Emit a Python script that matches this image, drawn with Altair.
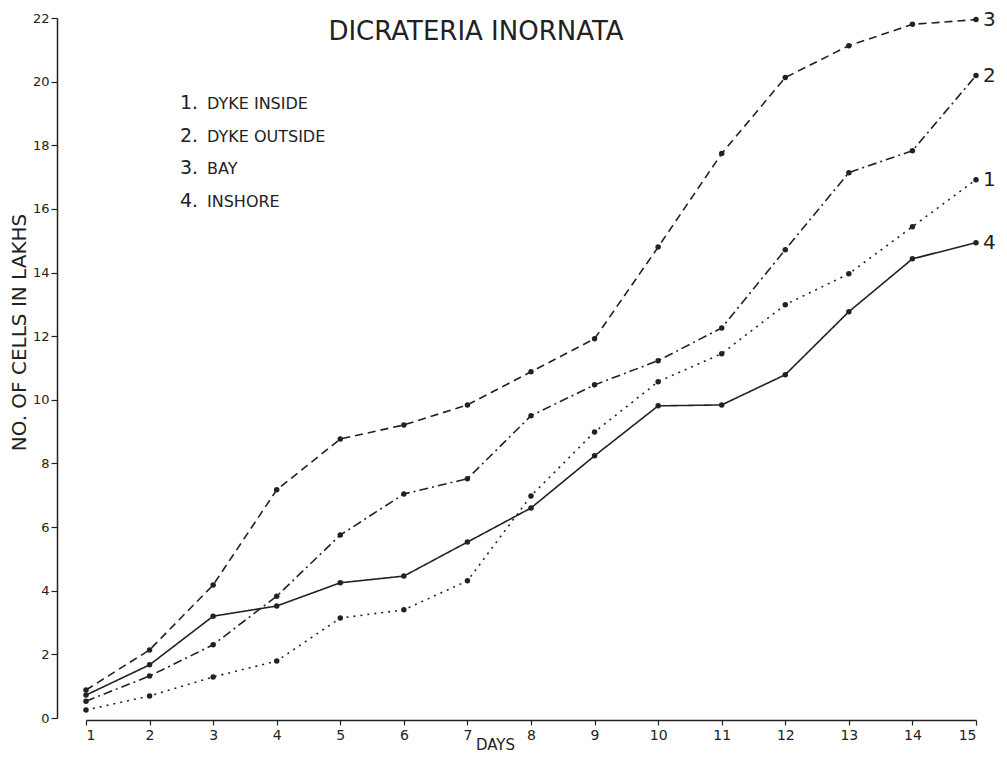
import altair as alt
import pandas as pd

# ---------------- data ----------------
days = list(range(1, 16))
series_ids = ["1", "2", "3", "4"]
series_names = ["DYKE INSIDE", "DYKE OUTSIDE", "BAY", "INSHORE"]
legend_nums = ["1.", "2.", "3.", "4."]

dyke_inside = [0.25, 0.69, 1.29, 1.79, 3.14, 3.40, 4.31, 6.98, 8.99, 10.57, 11.45, 12.99, 13.96, 15.44, 16.92]
dyke_outside = [0.53, 1.32, 2.30, 3.83, 5.75, 7.04, 7.52, 9.50, 10.47, 11.23, 12.26, 14.72, 17.14, 17.83, 20.19]
bay = [0.88, 2.14, 4.18, 7.17, 8.77, 9.21, 9.84, 10.88, 11.92, 14.80, 17.74, 20.13, 21.13, 21.80, 21.95]
inshore = [0.72, 1.67, 3.20, 3.52, 4.25, 4.46, 5.53, 6.60, 8.24, 9.81, 9.84, 10.79, 12.77, 14.43, 14.94]

y_ticks = list(range(0, 23))
chart_title = "DICRATERIA  INORNATA"
x_title = "DAYS"
y_title = "NO. OF CELLS IN LAKHS"

# ---------------- tables ----------------
rows = []
for sid, vals in zip(series_ids, [dyke_inside, dyke_outside, bay, inshore]):
    for d, v in zip(days, vals):
        rows.append({"day": d, "cells": v, "series": sid})
df = pd.DataFrame(rows)

legend_df = pd.DataFrame({"num": legend_nums, "label": series_names, "idx": list(range(len(series_names)))})
title_df = pd.DataFrame({"t": [chart_title]})

INK = "#222222"
FONT = "DejaVu Sans"
W, H = 890, 700

x_enc = alt.X(
    "day:Q",
    scale=alt.Scale(domain=[1, 15], nice=False, zero=False),
    axis=alt.Axis(
        values=days, format="d", title=x_title, offset=2, tickSize=5, labelPadding=3,
        labelFontSize=14, titleFontSize=15, titleFontWeight="normal",
        titleX=409, titleY=29, titleBaseline="alphabetic", titleAlign="center",
        labelFont=FONT, titleFont=FONT, grid=False,
    ),
)
y_enc = alt.Y(
    "cells:Q",
    scale=alt.Scale(domain=[0, 22], nice=False),
    axis=alt.Axis(
        values=y_ticks, labelExpr="datum.value % 2 == 0 ? datum.label : ''",
        title=y_title, offset=29, tickSize=6, labelPadding=2,
        labelFontSize=13, titleFontSize=20, titleFontWeight="normal",
        titleX=-38, titleY=314, titleAngle=-90, titleAlign="center", titleBaseline="middle",
        labelFont=FONT, titleFont=FONT, grid=False,
    ),
)

dash = alt.StrokeDash(
    "series:N",
    scale=alt.Scale(domain=series_ids, range=[[2, 5], [9, 4, 2, 4], [8, 5], [1, 0]]),
    legend=None,
)

base = alt.Chart(df)
lines = base.mark_line(color=INK, strokeWidth=1.6).encode(
    x=x_enc, y=y_enc, strokeDash=dash, detail="series:N"
)
points = base.mark_circle(color=INK, size=30, opacity=1).encode(x="day:Q", y="cells:Q")
end_labels = base.transform_filter(alt.datum.day == 15).mark_text(
    align="left", baseline="middle", dx=7, fontSize=20, font=FONT, color=INK
).encode(x="day:Q", y="cells:Q", text="series:N")

title_mark = alt.Chart(title_df).mark_text(
    fontSize=26, font=FONT, color=INK, align="center", baseline="middle"
).encode(x=alt.value(390), y=alt.value(14), text="t:N")

legend_nums_mark = alt.Chart(legend_df).transform_calculate(
    py="85 + 32.5 * datum.idx"
).mark_text(fontSize=19, font=FONT, color=INK, align="left", baseline="middle").encode(
    x=alt.value(94), y=alt.Y("py:Q", scale=None), text="num:N"
)
legend_labels_mark = alt.Chart(legend_df).transform_calculate(
    py="86 + 32.5 * datum.idx"
).mark_text(fontSize=16, font=FONT, color=INK, align="left", baseline="middle").encode(
    x=alt.value(121), y=alt.Y("py:Q", scale=None), text="label:N"
)

chart = (
    alt.layer(lines, points, end_labels, title_mark, legend_nums_mark, legend_labels_mark)
    .properties(
        width=W, height=H,
        autosize=alt.AutoSizeParams(type="none"),
        padding={"left": 78, "top": 10, "right": 23, "bottom": 38},
        background="white",
    )
    .configure_view(stroke=None)
    .configure_axis(domainColor=INK, tickColor=INK, labelColor=INK, titleColor=INK, domainWidth=1.5, tickWidth=1.2)
)

chart.save("out.html", embed_options={"renderer": "svg", "actions": False})
